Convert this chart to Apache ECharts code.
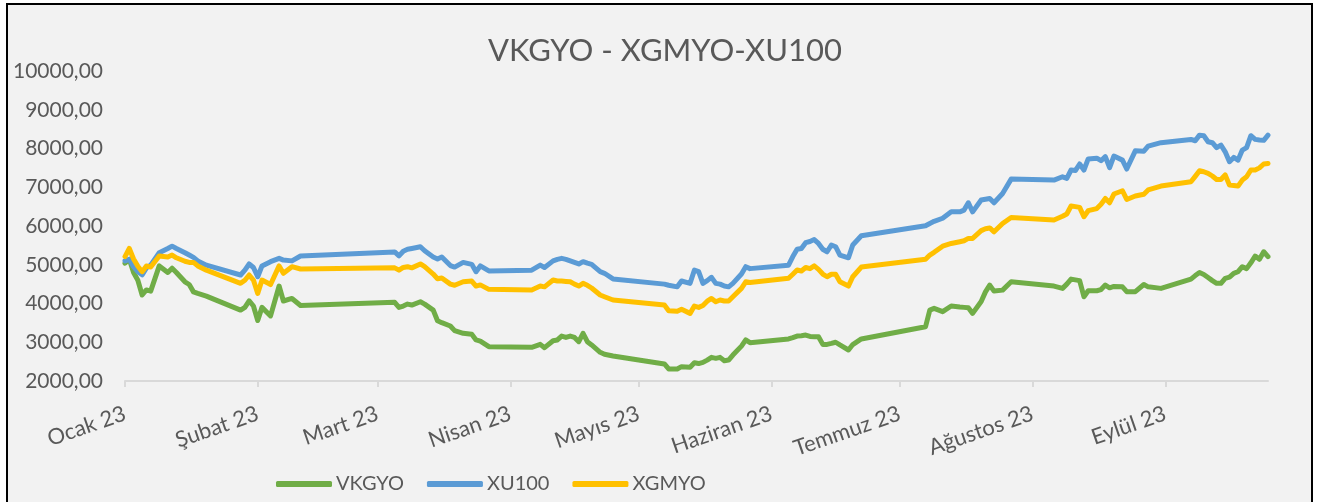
<!DOCTYPE html>
<html>
<head>
<meta charset="utf-8">
<title>VKGYO - XGMYO-XU100</title>
<script src="https://cdn.jsdelivr.net/npm/echarts@6.0.0/dist/echarts.min.js"></script>
<style>
  html, body { margin: 0; padding: 0; background: #ffffff; }
  .frame {
    position: absolute; left: 6px; top: 3px; width: 1303px; height: 520px;
    border: 2px solid #000; background: #f2f2f2;
  }
  #chart { position: absolute; left: 0; top: 0; width: 1330px; height: 502px; }
</style>
</head>
<body>
<div class="frame"></div>
<div id="chart"></div>
<script>
// islem gunleri (gaps are in the source data)
const dates = [
  '2023-01-01', '2023-01-02', '2023-01-03', '2023-01-04', '2023-01-05', '2023-01-06', '2023-01-07',
  '2023-01-09', '2023-01-11', '2023-01-12', '2023-01-13', '2023-01-15', '2023-01-16', '2023-01-17',
  '2023-01-18', '2023-01-20', '2023-01-28', '2023-01-29', '2023-01-30', '2023-01-31', '2023-02-01',
  '2023-02-02', '2023-02-04', '2023-02-06', '2023-02-07', '2023-02-09', '2023-02-11',
  '2023-03-05', '2023-03-06', '2023-03-07', '2023-03-08', '2023-03-09', '2023-03-11', '2023-03-12',
  '2023-03-14', '2023-03-15', '2023-03-16', '2023-03-18', '2023-03-19', '2023-03-21', '2023-03-23',
  '2023-03-24', '2023-03-25', '2023-03-27',
  '2023-04-06', '2023-04-08', '2023-04-09', '2023-04-11', '2023-04-12', '2023-04-13', '2023-04-14',
  '2023-04-15', '2023-04-16', '2023-04-17', '2023-04-18', '2023-04-19', '2023-04-20', '2023-04-22',
  '2023-04-23', '2023-04-25',
  '2023-05-07', '2023-05-08', '2023-05-10', '2023-05-11', '2023-05-13', '2023-05-14', '2023-05-15',
  '2023-05-16', '2023-05-17', '2023-05-18', '2023-05-19', '2023-05-20', '2023-05-21', '2023-05-22',
  '2023-05-23', '2023-05-25', '2023-05-26', '2023-05-27',
  '2023-06-05', '2023-06-06', '2023-06-07', '2023-06-08', '2023-06-09', '2023-06-10', '2023-06-11',
  '2023-06-12', '2023-06-13', '2023-06-14', '2023-06-15', '2023-06-16', '2023-06-17', '2023-06-19',
  '2023-06-20', '2023-06-22',
  '2023-07-07', '2023-07-08', '2023-07-09', '2023-07-11', '2023-07-13', '2023-07-15', '2023-07-16',
  '2023-07-17', '2023-07-18', '2023-07-20', '2023-07-21', '2023-07-22', '2023-07-23', '2023-07-25',
  '2023-07-27',
  '2023-08-06', '2023-08-08', '2023-08-09', '2023-08-10', '2023-08-11', '2023-08-12', '2023-08-13',
  '2023-08-14', '2023-08-16', '2023-08-17', '2023-08-18', '2023-08-19', '2023-08-20', '2023-08-22',
  '2023-08-23', '2023-08-25', '2023-08-27', '2023-08-28', '2023-08-31',
  '2023-09-07', '2023-09-08', '2023-09-09', '2023-09-10', '2023-09-11', '2023-09-12', '2023-09-13',
  '2023-09-14', '2023-09-15', '2023-09-16', '2023-09-17', '2023-09-18', '2023-09-19', '2023-09-20',
  '2023-09-21', '2023-09-22', '2023-09-23', '2023-09-24', '2023-09-25'
]

const vkgyo = [
  5040, 5140, 4800, 4600, 4220, 4350, 4320, 4970, 4800, 4910, 4800, 4560, 4490, 4300,
  4260, 4190, 3830, 3900, 4070, 3935, 3560, 3900, 3680, 4450, 4065, 4130, 3950,
  4030, 3900, 3935, 3985, 3960, 4045, 3985, 3830, 3555, 3505, 3420, 3300, 3230, 3205,
  3060, 3030, 2885,
  2870, 2945, 2860, 3040, 3060, 3160, 3125, 3160, 3125, 3015, 3230, 3015, 2930, 2740,
  2690, 2645,
  2440, 2310, 2310, 2370, 2355, 2470, 2450, 2480, 2540, 2610, 2585, 2610, 2525, 2540,
  2670, 2900, 3060, 2990,
  3085, 3120, 3160, 3170, 3185, 3150, 3145, 3140, 2945, 2945, 2970, 3000, 2930, 2800,
  2940, 3085,
  3400, 3830, 3875, 3790, 3935, 3910, 3900, 3890, 3745, 4050, 4300, 4475, 4320, 4345,
  4560,
  4450, 4390, 4500, 4630, 4610, 4590, 4175, 4330, 4330, 4360, 4475, 4405, 4440, 4430,
  4305, 4305, 4490, 4430, 4390,
  4630, 4720, 4800, 4750, 4670, 4590, 4520, 4520, 4650, 4680, 4780, 4820, 4950, 4900,
  5050, 5225, 5140, 5335, 5210
]

const xu100 = [
  5100, 5140, 4950, 4820, 4740, 4920, 4990, 5310, 5420, 5480, 5420, 5310, 5250, 5190,
  5100, 4990, 4735, 4860, 5020, 4930, 4690, 4970, 5080, 5165, 5120, 5100, 5225,
  5330, 5230, 5350, 5400, 5420, 5465, 5360, 5200, 5150, 5200, 4980, 4940, 5060, 5010,
  4820, 4970, 4840,
  4860, 4990, 4930, 5100, 5140, 5165, 5140, 5100, 5060, 5020, 5080, 5040, 5010, 4820,
  4780, 4635,
  4500, 4470, 4430, 4580, 4520, 4860, 4820, 4520, 4590, 4675, 4520, 4500, 4450, 4430,
  4520, 4760, 4950, 4900,
  4990, 5210, 5400, 5420, 5570, 5600, 5650, 5550, 5400, 5335, 5510, 5465, 5250, 5180,
  5510, 5750,
  6005, 6065, 6120, 6200, 6365, 6365, 6410, 6600, 6365, 6670, 6690, 6710, 6600, 6840,
  7210,
  7185, 7270, 7230, 7445, 7430, 7600, 7445, 7730, 7750, 7685, 7790, 7505, 7805, 7700,
  7470, 7940, 7930, 8060, 8150,
  8235, 8200, 8345, 8330, 8175, 8150, 8020, 8090, 7915, 7660, 7770, 7700, 7960, 8025,
  8330, 8235, 8220, 8210, 8345
]

const xgmyo = [
  5210, 5420, 5150, 4960, 4820, 4970, 4940, 5225, 5200, 5250, 5180, 5090, 5060, 5060,
  4970, 4860, 4520, 4600, 4735, 4605, 4260, 4605, 4490, 4970, 4780, 4950, 4890,
  4920, 4860, 4930, 4950, 4920, 5020, 4950, 4760, 4640, 4660, 4500, 4470, 4560, 4580,
  4450, 4480, 4365,
  4350, 4450, 4430, 4605, 4580, 4580, 4570, 4560, 4500, 4450, 4520, 4470, 4400, 4220,
  4175, 4090,
  3960, 3815, 3800, 3850, 3745, 3935, 3900, 3950, 4060, 4130, 4045, 4090, 4065, 4065,
  4175, 4390, 4560, 4540,
  4650, 4755, 4865, 4840, 4930, 4900, 4970, 4880, 4760, 4690, 4755, 4755, 4560, 4450,
  4690, 4940,
  5140, 5250, 5320, 5480, 5550, 5595, 5620, 5680, 5680, 5880, 5930, 5950, 5850, 6065,
  6220,
  6155, 6250, 6310, 6515, 6500, 6480, 6240, 6395, 6450, 6560, 6710, 6600, 6825, 6910,
  6685, 6775, 6820, 6930, 7030,
  7140, 7280, 7425, 7400, 7360, 7290, 7200, 7200, 7320, 7055, 7045, 7030, 7185, 7270,
  7445, 7445, 7500, 7600, 7615
]

const monthLabels = [
  'Ocak 23', 'Şubat 23', 'Mart 23', 'Nisan 23', 'Mayıs 23',
  'Haziran 23', 'Temmuz 23', 'Ağustos 23', 'Eylül 23'
]

const toTime = (s) => {
  const p = s.split('-')
  return new Date(+p[0], +p[1] - 1, +p[2]).getTime()
}
const monthStarts = monthLabels.map((_, i) => new Date(2023, i, 1).getTime())

const font = 'Lato, "Liberation Sans", sans-serif'
const textColor = '#595959'

const toPairs = (values) => dates.map((d, i) => [toTime(d), values[i]])

const lineSeries = (name, color, values) => ({
  name: name,
  type: 'line',
  data: toPairs(values),
  showSymbol: false,
  lineStyle: { color: color, width: 5, cap: 'round', join: 'round' },
  itemStyle: { color: color }
})

const option = {
  animation: false,
  title: {
    text: 'VKGYO - XGMYO-XU100',
    left: 'center',
    top: 30,
    textStyle: { color: textColor, fontFamily: font, fontSize: 31, fontWeight: 'normal' }
  },
  legend: {
    left: 271,
    top: 469,
    itemWidth: 56,
    itemHeight: 6,
    itemGap: 23,
    icon: 'roundRect',
    textStyle: { color: textColor, fontFamily: font, fontSize: 20, padding: [0, 0, 0, -1] },
    data: ['VKGYO', 'XU100', 'XGMYO']
  },
  grid: { left: 125, right: 62, top: 71, bottom: 121 },
  xAxis: {
    type: 'value',
    min: toTime('2023-01-01'),
    max: toTime('2023-09-25'),
    axisLine: { lineStyle: { color: '#d9d9d9', width: 2 } },
    axisTick: {
      length: 6,
      lineStyle: { color: '#d9d9d9', width: 2 },
      customValues: monthStarts
    },
    axisLabel: {
      customValues: monthStarts,
      rotate: 19,
      margin: 32,
      color: textColor,
      fontFamily: font,
      fontSize: 22,
      formatter: (value) => monthLabels[new Date(value).getMonth()]
    },
    splitLine: { show: false }
  },
  yAxis: {
    type: 'value',
    min: 2000,
    max: 10000,
    interval: 1000,
    axisLine: { show: false },
    axisTick: { show: false },
    splitLine: { show: false },
    axisLabel: {
      margin: 22,
      color: textColor,
      fontFamily: font,
      fontSize: 21,
      formatter: (value) => value + ',00'
    }
  },
  series: [
    lineSeries('VKGYO', '#70ad47', vkgyo),
    lineSeries('XU100', '#5b9bd5', xu100),
    lineSeries('XGMYO', '#ffc000', xgmyo)
  ]
}

const chartInstance = echarts.init(document.getElementById('chart'), null, { renderer: 'canvas' })
chartInstance.setOption(option)
</script>
</body>
</html>
